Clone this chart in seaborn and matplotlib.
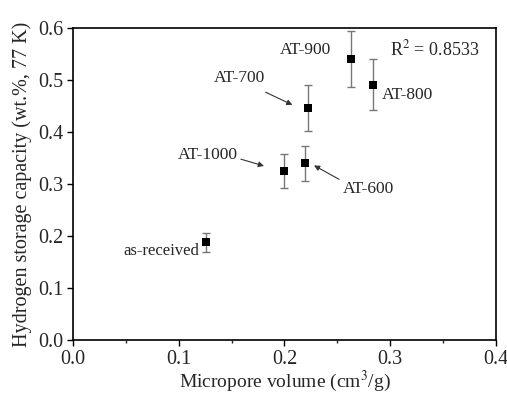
import matplotlib
matplotlib.use("Agg")
import matplotlib.pyplot as plt
import seaborn as sns
import pandas as pd
from matplotlib.ticker import MultipleLocator, FormatStrFormatter

# Data
samples = ["as-received", "AT-1000", "AT-600", "AT-700", "AT-900", "AT-800"]
micropore = [0.126, 0.1995, 0.2195, 0.2225, 0.263, 0.284]
h2_capacity = [0.188, 0.325, 0.340, 0.446, 0.540, 0.491]
h2_error = [0.018, 0.032, 0.034, 0.045, 0.054, 0.049]

df = pd.DataFrame({"Sample": samples, "Micropore": micropore,
                   "H2": h2_capacity, "Err": h2_error})

sns.set_style("ticks")
plt.rcParams["font.family"] = ["Liberation Serif", "DejaVu Serif"]
plt.rcParams["mathtext.fontset"] = "stix"

fig, ax = plt.subplots(figsize=(5.07, 3.98), dpi=100)

ax.errorbar(df["Micropore"], df["H2"], yerr=df["Err"], fmt="none",
            ecolor="#777777", elinewidth=1.0, capsize=3, capthick=1.0, zorder=2)
sns.scatterplot(data=df, x="Micropore", y="H2", marker="s", color="black",
                s=28, edgecolor="black", linewidth=0, ax=ax, zorder=3)

# labels and arrows
fs = 12.5
ax.text(0.2445, 0.558, "AT-900", ha="right", va="center", fontsize=fs)
ax.text(0.2995, 0.558, "R$^2$ = 0.8533", ha="left", va="center", fontsize=13)
ax.text(0.292, 0.472, "AT-800", ha="left", va="center", fontsize=fs)
ax.text(0.1575, 0.503, "AT-700", ha="center", va="center", fontsize=fs)
ax.text(0.1275, 0.3556, "AT-1000", ha="center", va="center", fontsize=fs)
ax.text(0.255, 0.2906, "AT-600", ha="left", va="center", fontsize=fs)
ax.text(0.1195, 0.1708, "as-received", ha="right", va="center", fontsize=12)

arrow = dict(arrowstyle="-|>", color="#333333", lw=0.8, mutation_scale=8)
ax.annotate("", xy=(0.2099, 0.4499), xytext=(0.1799, 0.4786), arrowprops=arrow)
ax.annotate("", xy=(0.1832, 0.3333), xytext=(0.1563, 0.3493), arrowprops=arrow)
ax.annotate("", xy=(0.2257, 0.3384), xytext=(0.254, 0.3065), arrowprops=arrow)

ax.set_xlim(0.0, 0.4)
ax.set_ylim(0.0, 0.6)
ax.xaxis.set_major_locator(MultipleLocator(0.1))
ax.xaxis.set_minor_locator(MultipleLocator(0.05))
ax.yaxis.set_major_locator(MultipleLocator(0.1))
ax.xaxis.set_major_formatter(FormatStrFormatter("%.1f"))
ax.yaxis.set_major_formatter(FormatStrFormatter("%.1f"))
ax.tick_params(axis="both", which="major", direction="out", length=4,
               width=1, labelsize=14.5, color="black", pad=3)
ax.tick_params(axis="x", which="minor", direction="out", length=2.5, width=1)

for sp in ax.spines.values():
    sp.set_visible(True)
    sp.set_color("black")
    sp.set_linewidth(1.2)

ax.set_xlabel("Micropore volume (cm$^3$/g)", fontsize=14, labelpad=0)
ax.set_ylabel("Hydrogen storage capacity (wt.%, 77 K)", fontsize=14.5, labelpad=4)

fig.subplots_adjust(left=0.144, right=0.978, top=0.930, bottom=0.145)
fig.savefig("out.png", dpi=100)
